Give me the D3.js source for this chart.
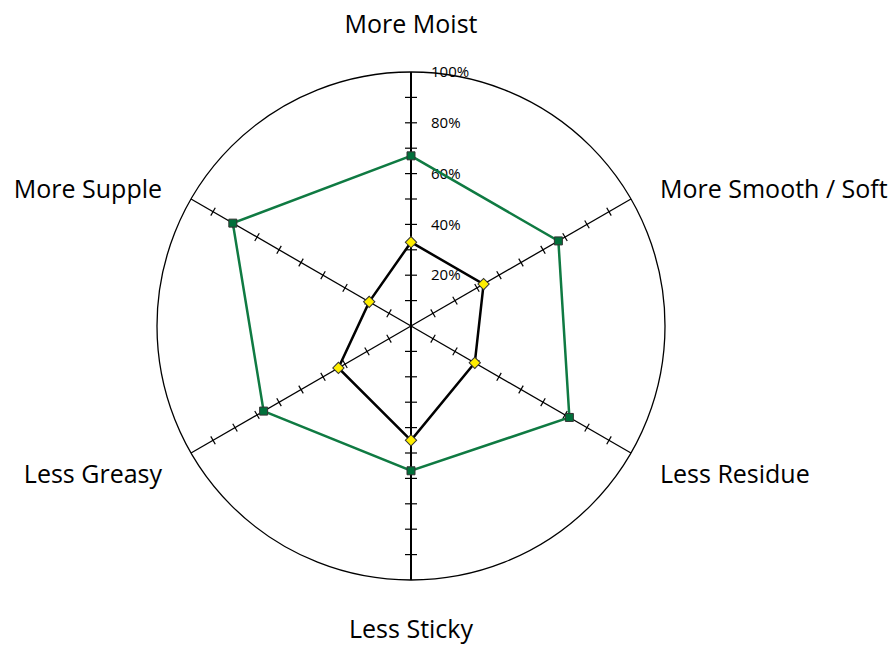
<!DOCTYPE html>
<html>
<head>
<meta charset="utf-8">
<script src="https://cdn.jsdelivr.net/npm/d3@7"></script>
<style>
  body { margin: 0; background: #fff; }
  text { font-family: "Open Sans", sans-serif; fill: #000; }
</style>
</head>
<body>
<div id="chart"></div>
<script>
// axis names, clockwise from the top
const axes = ["More Moist", "More Smooth / Soft", "Less Residue", "Less Sticky", "Less Greasy", "More Supple"];
// percent values per axis
const greenValues = [67, 67, 72, 57, 67, 81];
const yellowValues = [33, 33, 29, 45, 33, 19];
const tickValues = [10, 20, 30, 40, 50, 60, 70, 80, 90];
const tickLabels = [20, 40, 60, 80, 100];

const width = 892, height = 645;
const cx = 411, cy = 326, radius = 254;

const svg = d3.select("#chart").append("svg")
    .attr("width", width)
    .attr("height", height);

const g = svg.append("g").attr("transform", `translate(${cx},${cy})`);

const r = d3.scaleLinear().domain([0, 100]).range([0, radius]);
const angle = d3.scaleLinear().domain([0, axes.length]).range([0, 2 * Math.PI]);

// polar -> cartesian, angle measured clockwise from the top
function point(i, v) {
  const a = angle(i);
  return [r(v) * Math.sin(a), -r(v) * Math.cos(a)];
}

// outer circle
g.append("circle")
    .attr("r", r(100))
    .attr("fill", "none")
    .attr("stroke", "#000")
    .attr("stroke-width", 1.3);

// spokes
axes.forEach((name, i) => {
  const vertical = i % 3 === 0;
  const end = point(i, 100);
  g.append("line")
      .attr("x1", 0).attr("y1", 0)
      .attr("x2", end[0]).attr("y2", end[1])
      .attr("stroke", "#000")
      .attr("stroke-width", vertical ? 2 : 1.3);

  // tick marks across the spoke
  const a = angle(i);
  const half = vertical ? 6 : 4.5;
  const px = Math.cos(a) * half, py = Math.sin(a) * half;
  g.selectAll(null)
      .data(tickValues)
      .enter().append("line")
      .attr("x1", d => point(i, d)[0] - px)
      .attr("y1", d => point(i, d)[1] - py)
      .attr("x2", d => point(i, d)[0] + px)
      .attr("y2", d => point(i, d)[1] + py)
      .attr("stroke", "#000")
      .attr("stroke-width", 1.2);
});

// percent labels on the top spoke
g.selectAll(".pct")
    .data(tickLabels)
    .enter().append("text")
    .attr("class", "pct")
    .attr("x", 20)
    .attr("y", d => -r(d))
    .attr("dy", "0.35em")
    .style("font-size", "15px")
    .text(d => d + "%");

// axis labels
axes.forEach((name, i) => {
  const end = point(i, 100);
  const t = g.append("text").style("font-size", "25px").text(name);
  if (i === 0) {
    t.attr("x", 0).attr("y", end[1] - 39).attr("text-anchor", "middle");
  } else if (i === 3) {
    t.attr("x", 0).attr("y", end[1] + 58).attr("text-anchor", "middle");
  } else {
    const right = end[0] > 0;
    const upper = end[1] < 0;
    t.attr("x", end[0] + (right ? 29 : -29))
     .attr("y", end[1] + (upper ? -1 : 30))
     .attr("text-anchor", right ? "start" : "end");
  }
});

const line = d3.line().curve(d3.curveLinearClosed);

function series(values, color, size, fill, rotate) {
  const pts = values.map((v, i) => point(i, v));
  g.append("path")
      .attr("d", line(pts))
      .attr("fill", "none")
      .attr("stroke", color)
      .attr("stroke-width", 2.5)
      .attr("stroke-linejoin", "miter");
  g.selectAll(null)
      .data(pts)
      .enter().append("path")
      .attr("d", d3.symbol().type(d3.symbolSquare).size(size))
      .attr("transform", d => `translate(${d[0]},${d[1]}) rotate(${rotate})`)
      .attr("fill", fill)
      .attr("stroke", "#333")
      .attr("stroke-width", 1);
}

series(greenValues, "#0f7a42", 64, "#00703a", 0);
series(yellowValues, "#000", 64, "#ffee00", 45);
</script>
</body>
</html>
